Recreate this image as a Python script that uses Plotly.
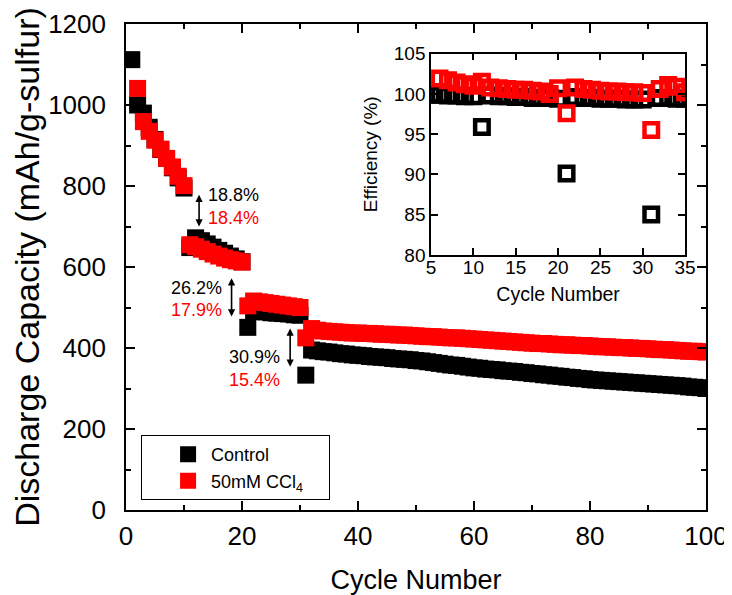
import plotly.graph_objects as go

# ---------------- data ----------------
cycles_control = list(range(1, 101))
capacity_control = [
    1112, 1000, 980, 945, 915, 890, 868, 845, 820, 795,
    648, 672, 665, 657, 649, 641, 634, 627, 620, 613,
    451, 492, 490, 489, 487, 486, 485, 484, 482, 481,
    333, 395, 393, 391, 390, 388, 386, 385, 383, 382,
    381, 379, 378, 377, 376, 374, 373, 372, 371, 369,
    368, 366, 364, 362, 360, 358, 357, 355, 353, 351,
    350, 348, 347, 346, 344, 343, 342, 340, 339, 337,
    336, 334, 333, 331, 330, 328, 327, 325, 324, 322,
    321, 320, 319, 318, 317, 316, 315, 314, 313, 312,
    311, 310, 309, 308, 307, 306, 304, 303, 302, 300,
]

cycles_ccl4 = list(range(2, 101))
capacity_ccl4 = [
    1041, 959, 935, 913, 891, 868, 847, 824, 801,
    655, 650, 644, 638, 632, 627, 622, 618, 615, 612,
    504, 516, 514, 512, 510, 508, 506, 504, 502, 500,
    425, 448, 444, 442, 441, 440, 439, 438, 437, 437,
    436, 436, 435, 434, 434, 433, 432, 432, 431, 430,
    429, 428, 428, 427, 426, 425, 425, 424, 423, 422,
    421, 420, 419, 418, 417, 416, 415, 414, 413, 412,
    411, 411, 410, 409, 408, 408, 407, 406, 406, 405,
    404, 403, 403, 402, 401, 401, 400, 399, 399, 398,
    397, 396, 396, 395, 394, 393, 392, 392, 391, 390,
]

eff_cycles_control = list(range(5, 36))
eff_control = [
    99.9, 99.9, 99.8, 99.8, 99.7, 99.7, 95.9, 99.8, 99.7, 99.7,
    99.6, 99.6, 99.5, 99.5, 99.5, 99.4, 90.1, 99.6, 99.5, 99.5,
    99.4, 99.4, 99.4, 99.3, 99.3, 99.3, 85.0, 99.5, 99.5, 99.4,
    99.4,
]

eff_cycles_ccl4 = list(range(6, 36))
eff_ccl4 = [
    101.9, 101.7, 101.4, 101.2, 101.0, 101.5, 100.8, 100.7, 100.6, 100.5,
    100.5, 100.4, 100.3, 100.0, 100.7, 97.6, 100.8, 100.6, 100.5, 100.4,
    100.3, 100.3, 100.2, 100.2, 100.1, 95.5, 100.6, 101.1, 100.9, 100.2,
]

# capacity-fade markers: arrow position, arrow ends, label position and texts
fade_arrow_x = [12.6, 18.2, 28.3]
fade_arrow_top = [782, 576, 452]
fade_arrow_bottom = [700, 478, 354]
fade_label_x = [18.6, 12.1, 22.2]
fade_label_control_y = [778, 549, 378]
fade_label_ccl4_y = [720, 494, 321]
fade_control_text = ["18.8%", "26.2%", "30.9%"]
fade_ccl4_text = ["18.4%", "17.9%", "15.4%"]

FONT = "Arial, 'Liberation Sans', sans-serif"
RED = "#FF0000"
BLACK = "#000000"

# the page body has an 8px default margin; the figure is sized so that it
# ends exactly at the 732x595 window edge
PAGE_OFFSET = 8

fig = go.Figure()

fig.add_trace(go.Scatter(
    x=cycles_control, y=capacity_control, mode="markers", name="Control",
    marker=dict(symbol="square", size=17, color=BLACK, line=dict(width=0)),
    xaxis="x", yaxis="y",
))
fig.add_trace(go.Scatter(
    x=cycles_ccl4, y=capacity_ccl4, mode="markers",
    name="50mM CCl<sub>4</sub>&nbsp;&nbsp;&nbsp;&nbsp;",
    marker=dict(symbol="square", size=17, color=RED, line=dict(width=0)),
    xaxis="x", yaxis="y",
))

# inset
fig.add_trace(go.Scatter(
    x=eff_cycles_control, y=eff_control, mode="markers", showlegend=False,
    marker=dict(symbol="square-open", size=13.5, color=BLACK, line=dict(width=4.5, color=BLACK)),
    xaxis="x2", yaxis="y2",
))
fig.add_trace(go.Scatter(
    x=eff_cycles_ccl4, y=eff_ccl4, mode="markers", showlegend=False,
    marker=dict(symbol="square-open", size=13.5, color=RED, line=dict(width=4.5, color=RED)),
    xaxis="x2", yaxis="y2",
))

annotations = []
for i in range(3):
    annotations.append(dict(
        x=fade_arrow_x[i], y=fade_arrow_bottom[i], ax=fade_arrow_x[i], ay=fade_arrow_top[i],
        xref="x", yref="y", axref="x", ayref="y", text="", showarrow=True,
        arrowhead=2, arrowside="end+start", arrowsize=0.9, arrowwidth=1.6, arrowcolor=BLACK,
        standoff=0, startstandoff=0,
    ))
    annotations.append(dict(
        x=fade_label_x[i], y=fade_label_control_y[i], xref="x", yref="y",
        text=fade_control_text[i], showarrow=False,
        font=dict(family=FONT, size=18, color=BLACK),
    ))
    annotations.append(dict(
        x=fade_label_x[i], y=fade_label_ccl4_y[i], xref="x", yref="y",
        text=fade_ccl4_text[i], showarrow=False,
        font=dict(family=FONT, size=18, color=RED),
    ))

axis_common = dict(
    showline=True, linewidth=1.6, linecolor=BLACK, mirror="ticks",
    showgrid=False, zeroline=False, ticks="inside", tickwidth=1.6,
    tickcolor=BLACK, automargin=False,
)

fig.update_layout(
    width=732 - PAGE_OFFSET, height=595 - PAGE_OFFSET, autosize=False,
    margin=dict(l=126 - PAGE_OFFSET, r=26, t=24 - PAGE_OFFSET, b=85, pad=0),
    paper_bgcolor="white", plot_bgcolor="white",
    font=dict(family=FONT, color=BLACK),
    showlegend=True,
    legend=dict(
        x=0.026, y=0.154, xanchor="left", yanchor="top",
        bordercolor=BLACK, borderwidth=1, bgcolor="white",
        font=dict(family=FONT, size=18, color=BLACK),
        indentation=23, itemwidth=36,
    ),
    xaxis=dict(
        range=[0, 100], tick0=0, dtick=20, ticklen=9,
        minor=dict(dtick=10, ticklen=5, ticks="inside", tickwidth=1.6, tickcolor=BLACK),
        tickfont=dict(family=FONT, size=26), ticklabelstandoff=2,
        title=dict(text="Cycle Number", font=dict(family=FONT, size=27), standoff=20),
        **axis_common,
    ),
    yaxis=dict(
        range=[0, 1200], tick0=0, dtick=200, ticklen=9,
        minor=dict(dtick=100, ticklen=5, ticks="inside", tickwidth=1.6, tickcolor=BLACK),
        tickfont=dict(family=FONT, size=26), ticklabelstandoff=13,
        title=dict(text="Discharge Capacity (mAh/g-sulfur)", font=dict(family=FONT, size=34), standoff=7),
        **axis_common,
    ),
    xaxis2=dict(
        domain=[0.526, 0.964], anchor="y2", range=[5, 35], tick0=5, dtick=5, ticklen=7,
        tickfont=dict(family=FONT, size=19), ticklabelstandoff=-5,
        title=dict(text="Cycle Number", font=dict(family=FONT, size=19.5), standoff=10),
        **axis_common,
    ),
    yaxis2=dict(
        domain=[0.525, 0.939], anchor="x2", range=[80, 105], tick0=80, dtick=5, ticklen=7,
        tickfont=dict(family=FONT, size=19), ticklabelstandoff=0,
        title=dict(text="Efficiency (%)", font=dict(family=FONT, size=19), standoff=11),
        **axis_common,
    ),
    annotations=annotations,
)

fig.write_html("out.html")
